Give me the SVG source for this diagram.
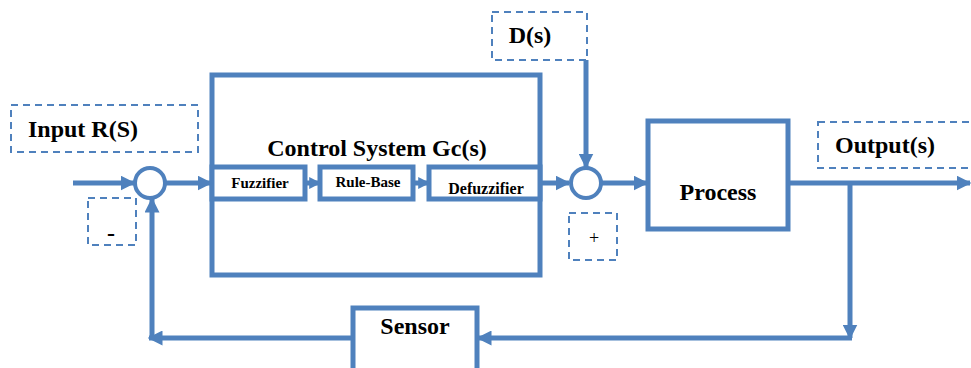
<svg xmlns="http://www.w3.org/2000/svg" width="971" height="368" viewBox="0 0 971 368">
<defs>
<marker id="ah" viewBox="0 0 10 10" refX="9" refY="5" markerWidth="3" markerHeight="3" orient="auto" markerUnits="strokeWidth"><path d="M0,0 L10,5 L0,10 z" fill="#4F81BD"/></marker>
<marker id="ahs" viewBox="0 0 10 10" refX="9" refY="5" markerWidth="2.4" markerHeight="2.4" orient="auto" markerUnits="strokeWidth"><path d="M0,0 L10,5 L0,10 z" fill="#4F81BD"/></marker>
</defs>
<style>
.blk{fill:#fff;stroke:#4F81BD;stroke-width:5}
.dash{fill:#fff;stroke:#4F81BD;stroke-width:2;stroke-dasharray:7 5}
.sum{fill:#fff;stroke:#4F81BD;stroke-width:4}
.ln{fill:none;stroke:#4F81BD;stroke-width:5}
.t{font-family:"Liberation Serif",serif;font-weight:bold;fill:#000;text-anchor:middle}
.big{font-size:24px}
.sm{font-size:15px}
</style>
<rect width="971" height="368" fill="#fff"/>
<g id="input-label"><rect class="dash" x="11" y="105" width="187" height="47"/><text class="t big" x="83" y="137">Input R(S)</text></g>
<g id="minus-label"><rect class="dash" x="88" y="198" width="48" height="47"/><text class="t" x="111" y="241" font-size="24">-</text></g>
<g id="control-system"><rect class="blk" x="212" y="75" width="328" height="200"/><text class="t big" x="377" y="156">Control System Gc(s)</text></g>
<g id="fuzzifier"><rect class="blk" x="212" y="167" width="93" height="32"/><text class="t sm" x="260" y="188">Fuzzifier</text></g>
<g id="rule-base"><rect class="blk" x="320" y="167" width="93" height="32"/><text class="t sm" x="368" y="187">Rule-Base</text></g>
<g id="defuzzifier"><rect class="blk" x="429" y="167" width="111" height="32"/><text class="t" x="486" y="194" font-size="16">Defuzzifier</text></g>
<g id="d-label"><rect class="dash" x="492" y="12" width="95" height="48"/><text class="t big" x="530" y="43">D(s)</text></g>
<g id="plus-label"><rect class="dash" x="569" y="213" width="48" height="47"/><text x="594" y="244" font-size="18" font-family="Liberation Serif,serif" text-anchor="middle">+</text></g>
<g id="process"><rect class="blk" x="648" y="121" width="140" height="108"/><text class="t big" x="718" y="200">Process</text></g>
<g id="output-label"><rect class="dash" x="818" y="122" width="160" height="46"/><text class="t big" x="885" y="153">Output(s)</text></g>
<g id="sensor"><rect class="blk" x="353" y="308" width="124" height="66"/><text class="t big" x="415" y="334">Sensor</text></g>
<g id="connectors">
<line class="ln" x1="73" y1="183" x2="134" y2="183" marker-end="url(#ah)"/>
<line class="ln" x1="166" y1="183" x2="211" y2="183" marker-end="url(#ah)"/>
<line class="ln" x1="305" y1="183" x2="320" y2="183" marker-end="url(#ahs)"/>
<line class="ln" x1="413" y1="183" x2="429" y2="183" marker-end="url(#ahs)"/>
<line class="ln" x1="540" y1="183" x2="569" y2="183" marker-end="url(#ah)"/>
<line class="ln" x1="586" y1="60" x2="586" y2="167" marker-end="url(#ah)"/>
<line class="ln" x1="602" y1="183" x2="647" y2="183" marker-end="url(#ah)"/>
<line class="ln" x1="788" y1="183" x2="970" y2="183" marker-end="url(#ah)"/>
<line class="ln" x1="850" y1="183" x2="850" y2="338" marker-end="url(#ah)"/>
<line class="ln" x1="852" y1="338" x2="478" y2="338" marker-end="url(#ah)"/>
<line class="ln" x1="353" y1="338" x2="149" y2="338" marker-end="url(#ah)"/>
<line class="ln" x1="152" y1="340" x2="152" y2="199" marker-end="url(#ah)"/>
<circle class="sum" cx="150" cy="183" r="15"/>
<circle class="sum" cx="586" cy="183" r="15"/>
</g>
</svg>
